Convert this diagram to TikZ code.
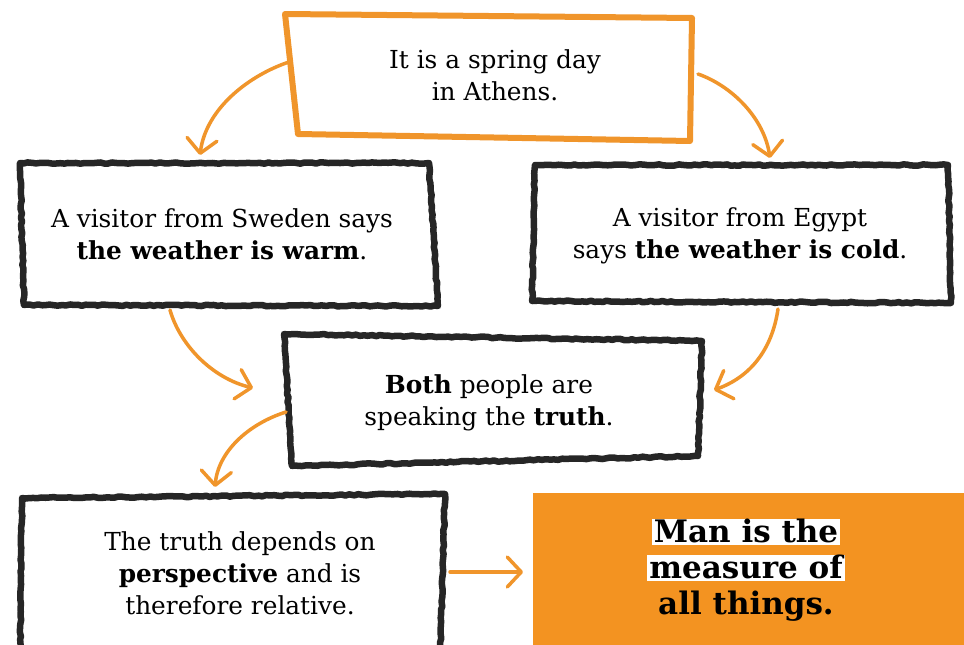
\documentclass[tikz,border=0pt]{standalone}
\usepackage{fontspec}
\setmainfont{DejaVu Serif}
\usetikzlibrary{arrows.meta,decorations.pathmorphing}
\definecolor{org}{HTML}{F0952B}
\definecolor{orgfill}{HTML}{F39321}
\newcommand{\hl}[1]{{\setlength{\fboxsep}{0pt}\colorbox{white}{\kern2pt\rule[-3pt]{0pt}{26pt}#1\kern2pt}}}
\begin{document}
\begin{tikzpicture}[x=1pt,y=-1pt,
  txt/.style={align=center,font=\fontsize{24.8}{32}\selectfont,inner sep=0pt},
  bigtxt/.style={align=center,font=\bfseries\fontsize{31}{36}\selectfont,inner sep=0pt},
  blackbox/.style={draw=black!85,line width=6.5pt,line join=round,decorate,
    decoration={random steps,segment length=4pt,amplitude=0.7pt}},
  orangebox/.style={draw=org,line width=6pt,line join=round},
  arr/.style={draw=org,line width=3.5pt,line cap=round,
    -{Straight Barb[length=14pt,width=30pt,line width=3.5pt,round]}}]
\useasboundingbox (0,0) rectangle (964,645);
\fill[white] (0,0) rectangle (964,645);

% boxes
\draw[orangebox] (285,14) -- (692,18) -- (690,141) -- (298,134) -- cycle;
\draw[blackbox] (20,163) -- (429,163) -- (438,306) -- (24,305) -- cycle;
\draw[blackbox] (535,165) -- (948,165) -- (951,303) -- (532,301) -- cycle;
\draw[blackbox] (284,334) -- (702,341) -- (698,456) -- (292,466) -- cycle;
\draw[blackbox] (22,498) -- (445,494) -- (440,660) -- (20,660) -- cycle;
\fill[orgfill] (533,493) rectangle (970,655);

% text nodes
\node[txt] (top) at (495,75) {It is a spring day\\in Athens.};
\node[txt] (sweden) at (222,234) {A visitor from Sweden says\\\textbf{the weather is warm}.};
\node[txt] (egypt) at (740,236) {A visitor from Egypt\\says \textbf{the weather is cold}.};
\node[txt] (both) at (489,403) {\textbf{Both} people are\\speaking the \textbf{truth}.};
\node[txt] (rel) at (240,573) {The truth depends on\\\textbf{perspective} and is\\therefore relative.};
\node[bigtxt] (man) at (746,570) {\hl{Man is the}\\\hl{measure of}\\all things.};

% connector end points on the box edges
\coordinate (topL) at (289,62);
\coordinate (topR) at (698,74);
\coordinate (swB) at (170,310);
\coordinate (egB) at (778,309);
\coordinate (bothL) at (286,412);
\coordinate (relR) at (450,572);
\coordinate (swT) at (200,155);
\coordinate (egT) at (770,158);
\coordinate (bothW) at (253,388);
\coordinate (bothE) at (714,390);
\coordinate (relT) at (215,487);
\coordinate (manW) at (523,572);

% connectors
\draw[arr] (topL) .. controls (250,75) and (206,108) .. (swT);
\draw[arr] (topR) .. controls (732,86) and (764,118) .. (egT);
\draw[arr] (swB) .. controls (180,345) and (212,378) .. (bothW);
\draw[arr] (egB) .. controls (772,350) and (750,377) .. (bothE);
\draw[arr] (bothL) .. controls (248,424) and (218,452) .. (relT);
\draw[arr] (relR) -- (manW);
\end{tikzpicture}
\end{document}
